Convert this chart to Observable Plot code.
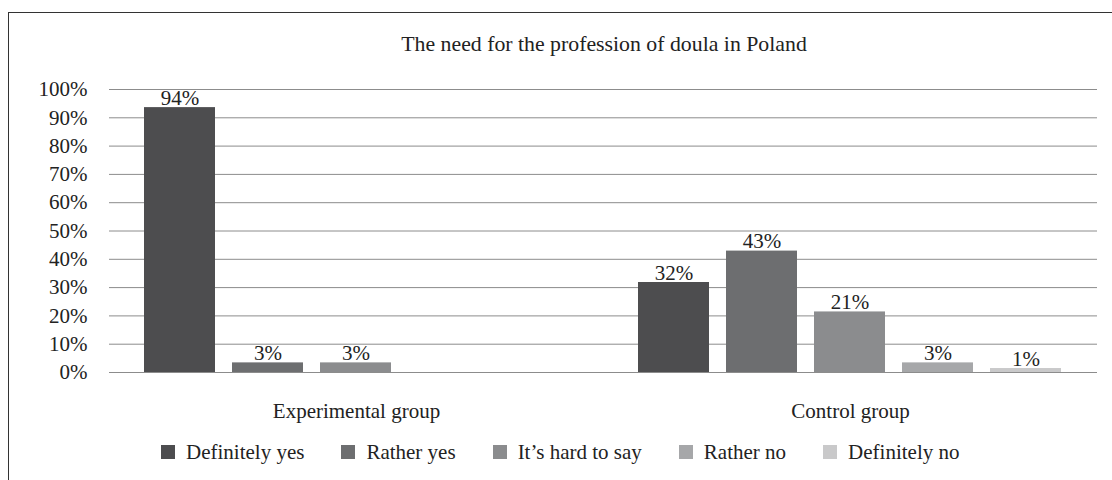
<!DOCTYPE html>
<html>
<head>
<meta charset="utf-8">
<script src="https://cdn.jsdelivr.net/npm/d3@7"></script>
<script src="https://cdn.jsdelivr.net/npm/@observablehq/plot@0.6"></script>
<style>
  html, body { margin: 0; padding: 0; background: #fff; }
  body { position: relative; width: 1112px; height: 480px; overflow: hidden; font-family: "Liberation Serif", "Times New Roman", serif; color: #222; }
  #frame { position: absolute; left: 8px; top: 12px; width: 1104px; height: 468px; border-left: 1px solid #333; border-top: 1px solid #333; box-sizing: border-box; }
  #title { position: absolute; left: 48px; top: 32px; width: 1112px; text-align: center; font-size: 21.8px; line-height: 24px; }
  #chart { position: absolute; left: 0; top: 70px; }
  #legend { position: absolute; left: 161px; top: 440px; display: flex; align-items: center; font-size: 21px; line-height: 24px; white-space: nowrap; }
  .item { display: flex; align-items: center; margin-right: 37px; }
  .sw { width: 14px; height: 14px; margin-right: 11px; }
</style>
</head>
<body>
<div id="frame"></div>
<div id="title"></div>
<div id="chart"></div>
<div id="legend"></div>
<script>
const titleText = "The need for the profession of doula in Poland";
const groups = ["Experimental group", "Control group"];
const answers = ["Definitely yes", "Rather yes", "It\u2019s hard to say", "Rather no", "Definitely no"];
const colors = ["#4d4d4f", "#6d6e70", "#8b8c8e", "#a6a7a9", "#c9c9ca"];
const experimentalValues = [0.936, 0.034, 0.034, null, null];
const controlValues = [0.318, 0.429, 0.214, 0.034, 0.014];
const yTicks = [0, 0.1, 0.2, 0.3, 0.4, 0.5, 0.6, 0.7, 0.8, 0.9, 1.0];

const data = [];
[experimentalValues, controlValues].forEach((vals, gi) => {
  vals.forEach((v, ai) => {
    if (v != null) data.push({group: groups[gi], answer: answers[ai], value: v});
  });
});

document.getElementById("title").textContent = titleText;

const pct = d3.format(".0%");

const chart = Plot.plot({
  width: 1112,
  height: 360,
  marginTop: 19,
  marginBottom: 58,
  marginLeft: 109,
  marginRight: 15,
  style: {fontFamily: "Liberation Serif, Times New Roman, serif", fontSize: "21px", color: "#222", background: "transparent", overflow: "visible"},
  fx: {domain: groups, padding: 0, axis: "bottom", tickSize: 0, tickPadding: 31, label: null},
  x: {domain: answers, axis: null, paddingInner: 0.193, paddingOuter: 0.403},
  y: {domain: [0, 1], ticks: yTicks, tickFormat: pct, tickSize: 0, tickPadding: 22, label: null},
  color: {domain: answers, range: colors},
  marks: [
    Plot.gridY(yTicks, {stroke: "#8c8c8c", strokeOpacity: 1}),
    Plot.barY(data, {fx: "group", x: "answer", y: "value", fill: "answer"}),
    Plot.text(data, {fx: "group", x: "answer", y: "value", text: d => pct(d.value), lineAnchor: "bottom", dy: -3, fill: "#222"})
  ]
});
document.getElementById("chart").appendChild(chart);

const legend = document.getElementById("legend");
answers.forEach((a, i) => {
  const item = document.createElement("div");
  item.className = "item";
  const sw = document.createElement("div");
  sw.className = "sw";
  sw.style.background = colors[i];
  const label = document.createElement("span");
  label.textContent = a;
  item.appendChild(sw);
  item.appendChild(label);
  legend.appendChild(item);
});
</script>
</body>
</html>
